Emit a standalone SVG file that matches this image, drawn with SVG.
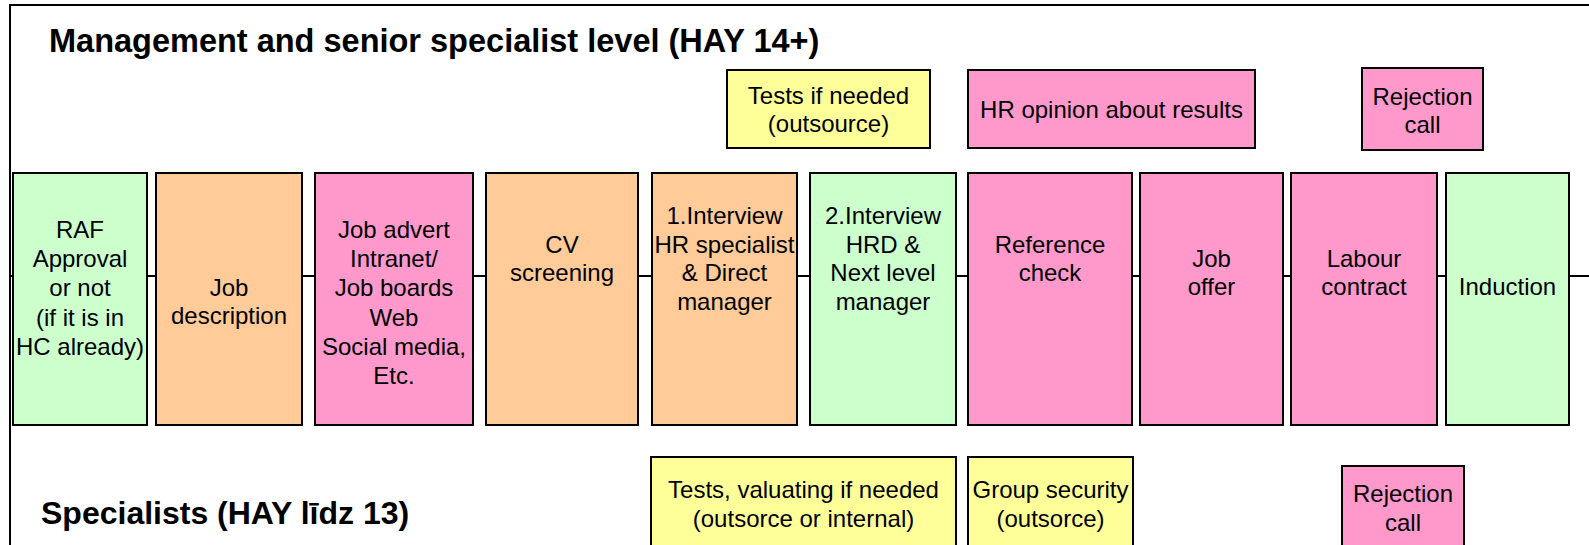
<svg xmlns="http://www.w3.org/2000/svg" width="1589" height="545" viewBox="0 0 1589 545">
<style>
.t{font-family:"Liberation Sans",Arial,sans-serif;font-size:24px;fill:#000;text-anchor:middle}
.h{font-family:"Liberation Sans",Arial,sans-serif;font-weight:bold;fill:#000}
.b{stroke:#000;stroke-width:2}
.g{fill:#CCFFCC}.o{fill:#FFCC99}.p{fill:#FF99CC}.y{fill:#FFFF99}
</style>
<rect width="1589" height="545" fill="#fff"/>
<path d="M10,560 V5 H1600" fill="none" stroke="#000" stroke-width="2"/>
<text class="h" x="49" y="52" font-size="32.5">Management and senior specialist level (HAY 14+)</text>
<text class="h" x="41" y="524" font-size="32">Specialists (HAY līdz 13)</text>
<g id="connectors">
<line x1="10" y1="276" x2="1589" y2="276" stroke="#000" stroke-width="2"/>
</g>
<g id="n1"><rect class="b g" x="13" y="173" width="134" height="252"/>
<text class="t"><tspan x="80" y="238">RAF</tspan><tspan x="80" y="267.2">Approval</tspan><tspan x="80" y="296.4">or not</tspan><tspan x="80" y="325.6">(if it is in</tspan><tspan x="80" y="354.8">HC already)</tspan></text></g>
<g id="n2"><rect class="b o" x="156" y="173" width="146" height="252"/>
<text class="t"><tspan x="229" y="295.5">Job</tspan><tspan x="229" y="324">description</tspan></text></g>
<g id="n3"><rect class="b p" x="315" y="173" width="158" height="252"/>
<text class="t"><tspan x="394" y="238">Job advert</tspan><tspan x="394" y="267.2">Intranet/</tspan><tspan x="394" y="296.4">Job boards</tspan><tspan x="394" y="325.6">Web</tspan><tspan x="394" y="354.8">Social media,</tspan><tspan x="394" y="384">Etc.</tspan></text></g>
<g id="n4"><rect class="b o" x="486" y="173" width="152" height="252"/>
<text class="t"><tspan x="562" y="252.5">CV</tspan><tspan x="562" y="281">screening</tspan></text></g>
<g id="n5"><rect class="b o" x="652" y="173" width="145" height="252"/>
<text class="t"><tspan x="724.5" y="223.5">1.Interview</tspan><tspan x="724.5" y="252.5">HR specialist</tspan><tspan x="724.5" y="281">&amp; Direct</tspan><tspan x="724.5" y="309.5">manager</tspan></text></g>
<g id="n6"><rect class="b g" x="810" y="173" width="146" height="252"/>
<text class="t"><tspan x="883" y="223.5">2.Interview</tspan><tspan x="883" y="252.5">HRD &amp;</tspan><tspan x="883" y="281">Next level</tspan><tspan x="883" y="309.5">manager</tspan></text></g>
<g id="n7"><rect class="b p" x="968" y="173" width="164" height="252"/>
<text class="t"><tspan x="1050" y="252.5">Reference</tspan><tspan x="1050" y="281">check</tspan></text></g>
<g id="n8"><rect class="b p" x="1140" y="173" width="143" height="252"/>
<text class="t"><tspan x="1211.5" y="266.5">Job</tspan><tspan x="1211.5" y="295">offer</tspan></text></g>
<g id="n9"><rect class="b p" x="1291" y="173" width="146" height="252"/>
<text class="t"><tspan x="1364" y="266.5">Labour</tspan><tspan x="1364" y="295">contract</tspan></text></g>
<g id="n10"><rect class="b g" x="1446" y="173" width="123" height="252"/>
<text class="t"><tspan x="1507.5" y="295">Induction</tspan></text></g>
<g id="top1"><rect class="b y" x="727" y="70" width="203" height="78"/>
<text class="t"><tspan x="828.5" y="104">Tests if needed</tspan><tspan x="828.5" y="132">(outsource)</tspan></text></g>
<g id="top2"><rect class="b p" x="968" y="70" width="287" height="78"/>
<text class="t"><tspan x="1111.5" y="118">HR opinion about results</tspan></text></g>
<g id="top3"><rect class="b p" x="1362" y="68" width="121" height="82"/>
<text class="t"><tspan x="1422.5" y="104.5">Rejection</tspan><tspan x="1422.5" y="133">call</tspan></text></g>
<g id="bot1"><rect class="b y" x="651" y="457" width="305" height="110"/>
<text class="t"><tspan x="803.5" y="497.5">Tests, valuating if needed</tspan><tspan x="803.5" y="526.5">(outsorce or internal)</tspan></text></g>
<g id="bot2"><rect class="b y" x="968" y="457" width="165" height="110"/>
<text class="t"><tspan x="1050.5" y="497.5">Group security</tspan><tspan x="1050.5" y="526.5">(outsorce)</tspan></text></g>
<g id="bot3"><rect class="b p" x="1342" y="466" width="122" height="100"/>
<text class="t"><tspan x="1403" y="502">Rejection</tspan><tspan x="1403" y="530.5">call</tspan></text></g>
</svg>
